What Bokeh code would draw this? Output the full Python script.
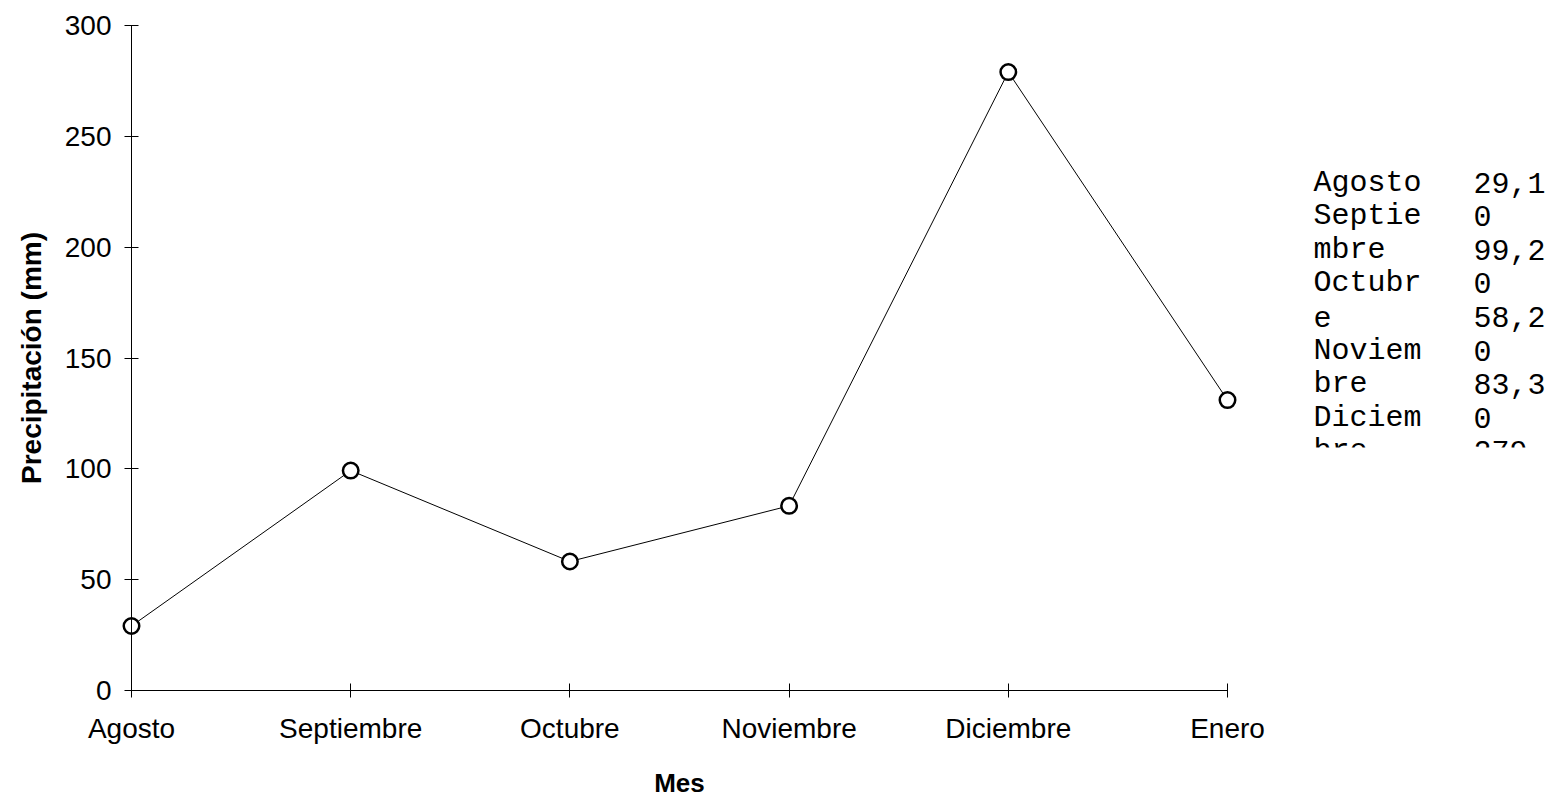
from bokeh.plotting import figure
from bokeh.models import Range1d, LinearAxis, FixedTicker, ColumnDataSource
from bokeh.embed import file_html
from bokeh.resources import INLINE
from bokeh.core.properties import value

# ---------------- data ----------------
months = ["Agosto", "Septiembre", "Octubre", "Noviembre", "Diciembre", "Enero"]
precip = [29.1, 99.2, 58.2, 83.3, 279.0, 131.0]
y_ticks = [0, 50, 100, 150, 200, 250, 300]
x_title = "Mes"
y_title = "Precipitación (mm)"

# ---------------- layout constants (canvas px) ----------------
W, H = 1550, 798
X_FIRST_PX, X_LAST_PX = 131, 1227
Y_BOT_PX, Y_TOP_PX = 690, 25

n = len(months)
xs = list(range(n))
ymin, ymax = y_ticks[0], y_ticks[-1]
ppu_x = (X_LAST_PX - X_FIRST_PX) / (n - 1)
ppu_y = (Y_BOT_PX - Y_TOP_PX) / (ymax - ymin)
x_range = Range1d(0 - X_FIRST_PX / ppu_x, (n - 1) + (W - X_LAST_PX) / ppu_x)
y_range = Range1d(ymin - (H - Y_BOT_PX) / ppu_y, ymax + Y_TOP_PX / ppu_y)

p = figure(width=W, height=H, x_range=x_range, y_range=y_range,
           output_backend="svg", toolbar_location=None,
           x_axis_location=None, y_axis_location=None,
           min_border_left=0, min_border_right=0,
           min_border_top=0, min_border_bottom=0)
for g in p.grid:
    g.visible = False
p.outline_line_color = None
p.background_fill_color = "white"
p.border_fill_color = "white"

# pixel-space ranges for the side table
p.extra_x_ranges = {"px": Range1d(0, W)}
p.extra_y_ranges = {"px": Range1d(H, 0)}

TICK_FONT = "Liberation Sans"

xaxis = LinearAxis(fixed_location=ymin, bounds=(0, n - 1),
                   ticker=FixedTicker(ticks=xs, minor_ticks=[]),
                   major_label_overrides={i: m for i, m in enumerate(months)},
                   axis_label=x_title)
yaxis = LinearAxis(fixed_location=0, bounds=(ymin, ymax),
                   ticker=FixedTicker(ticks=y_ticks, minor_ticks=[]),
                   axis_label=y_title)
for ax in (xaxis, yaxis):
    ax.axis_line_color = "black"
    ax.axis_line_width = 1
    ax.major_tick_line_color = "black"
    ax.major_tick_line_width = 1
    ax.major_tick_in = 7
    ax.major_tick_out = 7
    ax.minor_tick_line_color = None
    ax.major_label_text_font = TICK_FONT
    ax.major_label_text_font_size = "28px"
    ax.major_label_text_color = "black"
    ax.axis_label_text_font = TICK_FONT
    ax.axis_label_text_font_style = "bold"
    ax.axis_label_text_color = "black"
xaxis.major_label_standoff = 15
xaxis.axis_label_text_font_size = "26px"
xaxis.axis_label_standoff = 21
yaxis.major_label_standoff = 13
yaxis.axis_label_text_font_size = "28px"
yaxis.axis_label_standoff = 15
p.add_layout(xaxis, "below")
p.add_layout(yaxis, "left")

src = ColumnDataSource(dict(x=xs, y=precip))
p.line("x", "y", source=src, line_color="black", line_width=1)
p.scatter("x", "y", source=src, marker="circle", size=15.5,
          fill_color="white", line_color="black", line_width=2.5)

# ---------------- clipped data table at the right ----------------
def wrap(s, w):
    return [s[i:i + w] for i in range(0, len(s), w)]

def fmt(v):
    return ("%g" % v).replace(".", ",")

names_col = [c for m in months for c in wrap(m, 6)]
values_col = [t for v in precip for t in (fmt(v), "0")]

TABLE_LEFT = 1298
NAME_X, VAL_X = 1313, 1473
CLIP = 447
LINE_H = 33.6
BASE0 = 182
MONO = value("Liberation Mono")

p.text(x=[NAME_X] * len(names_col), y=[BASE0 + i * LINE_H for i in range(len(names_col))],
       text=names_col, text_font=MONO, text_font_size="30px",
       text_baseline="alphabetic", text_align="left", text_color="black",
       x_range_name="px", y_range_name="px")
p.text(x=[VAL_X] * len(values_col), y=[BASE0 + i * LINE_H for i in range(len(values_col))],
       text=values_col, text_font=MONO, text_font_size="30px",
       text_baseline="alphabetic", text_align="left", text_color="black",
       x_range_name="px", y_range_name="px")
# the table box cuts off its lower lines
p.quad(left=[TABLE_LEFT], right=[W], top=[CLIP], bottom=[H],
       fill_color="white", line_color=None, x_range_name="px", y_range_name="px")

open("out.html", "w").write(file_html(p, INLINE))
